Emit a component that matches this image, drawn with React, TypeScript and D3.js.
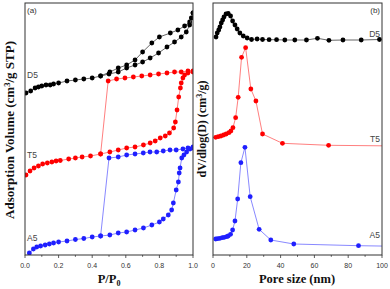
import { useEffect, useRef } from "react"
import * as d3 from "d3"

// isotherms, [P/P0, volume] (arbitrary units)
const d5Ads = [
  [0.006, 162], [0.034, 164], [0.06, 167], [0.08, 168], [0.1, 169], [0.125, 170], [0.15, 170],
  [0.17, 171], [0.2, 172], [0.25, 174], [0.3, 175], [0.35, 176], [0.4, 177], [0.45, 179],
  [0.5, 181], [0.555, 183], [0.605, 187], [0.655, 190], [0.7, 193], [0.745, 197], [0.795, 202],
  [0.845, 208], [0.89, 213], [0.93, 218], [0.96, 223], [0.98, 230], [0.99, 237], [1.0, 242],
]
const d5Des = [
  [1.0, 242], [0.98, 233], [0.95, 229], [0.91, 225], [0.865, 222], [0.8, 218], [0.755, 212],
  [0.7, 203], [0.655, 195], [0.605, 190], [0.555, 187], [0.505, 183], [0.45, 179],
]
const t5Ads = [
  [0.006, 80], [0.03, 84], [0.054, 87], [0.08, 89], [0.105, 91], [0.133, 92], [0.16, 93],
  [0.185, 94], [0.21, 94.5], [0.26, 96], [0.3, 97], [0.34, 98], [0.39, 99], [0.45, 101],
  [0.505, 103], [0.555, 105], [0.605, 107], [0.655, 108], [0.705, 110], [0.745, 112],
  [0.775, 114], [0.805, 117], [0.835, 119], [0.86, 122], [0.885, 127], [0.895, 133],
  [0.905, 145], [0.915, 158], [0.925, 167], [0.93, 172], [0.94, 177], [0.95, 180], [0.97, 182],
  [1.0, 183],
]
const t5Des = [
  [1.0, 184], [0.97, 184], [0.93, 183], [0.89, 183], [0.845, 182], [0.795, 181], [0.745, 180],
  [0.695, 179], [0.645, 178], [0.595, 177], [0.545, 176], [0.495, 174], [0.45, 101],
]
const a5Ads = [
  [0.026, 2], [0.05, 6], [0.07, 8], [0.093, 9], [0.12, 10], [0.145, 11], [0.17, 12], [0.2, 13],
  [0.25, 14], [0.3, 15.5], [0.35, 16.5], [0.4, 18], [0.45, 19], [0.505, 20], [0.555, 22],
  [0.605, 23], [0.655, 25], [0.705, 27], [0.755, 30], [0.8, 33], [0.823, 36], [0.853, 40],
  [0.873, 45], [0.883, 52], [0.9, 65], [0.913, 73], [0.918, 82], [0.923, 87], [0.933, 97],
  [0.946, 100], [0.962, 103], [0.982, 106], [1.0, 107],
]
const a5Des = [
  [1.0, 108], [0.97, 107], [0.94, 106], [0.9, 105], [0.863, 105], [0.823, 104], [0.784, 103],
  [0.744, 103], [0.704, 102], [0.655, 101], [0.605, 100], [0.555, 98], [0.5, 97], [0.45, 19],
]

// pore size distributions, [D (nm), dV/dlog(D)] (arbitrary units)
const d5Psd = [
  [1.8, 218], [2.5, 222], [3.4, 225], [4.1, 228], [4.9, 232], [5.7, 235], [6.5, 238], [7.7, 241],
  [9.0, 241.5], [10.4, 239], [11.6, 234], [13.0, 230], [14.3, 226], [15.9, 222], [17.9, 219],
  [20.2, 217], [22.8, 215.5], [26.1, 216], [29.3, 215.5], [33.2, 215.3], [37.6, 215.3],
  [42.5, 215], [48.4, 215], [55.3, 215], [61.8, 216.7], [68.6, 214.7], [76.9, 215], [87.7, 215],
  [98.5, 215.5],
]
const t5Psd = [
  [1.6, 117.7], [3.1, 118.3], [4.7, 119], [6.3, 120], [7.8, 121], [9.4, 122.3], [10.6, 124],
  [11.8, 127.3], [13.4, 137.3], [14.9, 157.7], [16.9, 197.7], [19.3, 207.3], [22.4, 166],
  [25.4, 154], [29.3, 121], [41.1, 111.7], [68.4, 109.7], [110, 109],
]
const a5Psd = [
  [1.6, 16], [2.8, 16.3], [4.1, 16.7], [5.5, 17.3], [6.7, 17.7], [8.1, 18.3], [9.0, 19],
  [10.4, 20.7], [11.6, 25], [13.0, 34], [14.6, 56], [16.5, 92.3], [18.9, 107.7], [22.0, 58.3],
  [27.3, 25.7], [34.2, 15], [47.8, 11], [86.1, 9.3], [110, 8.7],
]

const sampleNames = ["D5", "T5", "A5"]
const markerColors = ["#000000", "#ff0000", "#1f1fff"]
const lineColors = ["#555555", "#ff7070", "#7a7aff"]

const App = () => {
  const svgRef = useRef<SVGSVGElement>(null)

  useEffect(() => {
    const svg = d3.select(svgRef.current)
    svg.selectAll("*").remove()

    const top = 3
    const bottom = 255
    const panels = [
      { x0: 25, x1: 193, domain: [0, 1], major: 0.2, minor: 0.1, fmt: d3.format(".1f"), id: "a" },
      { x0: 213, x1: 382, domain: [0, 100], major: 20, minor: 10, fmt: d3.format("d"), id: "b" },
    ]
    const y = d3.scaleLinear().domain([0, 252]).range([bottom, top])

    const defs = svg.append("defs")
    panels.forEach((p) => {
      defs
        .append("clipPath")
        .attr("id", "clip-" + p.id)
        .append("rect")
        .attr("x", p.x0)
        .attr("y", top)
        .attr("width", p.x1 - p.x0)
        .attr("height", bottom - top)
    })

    const line = (x) =>
      d3
        .line()
        .x((d) => x(d[0]))
        .y((d) => y(d[1]))

    const drawSeries = (g, x, pts, i, clip) => {
      g.append("path")
        .attr("d", line(x)(pts))
        .attr("fill", "none")
        .attr("stroke", lineColors[i])
        .attr("stroke-width", 0.9)
        .attr("clip-path", clip)
      g.append("g")
        .attr("clip-path", clip)
        .selectAll("circle")
        .data(pts)
        .enter()
        .append("circle")
        .attr("cx", (d) => x(d[0]))
        .attr("cy", (d) => y(d[1]))
        .attr("r", 2.4)
        .attr("fill", markerColors[i])
    }

    panels.forEach((p, pi) => {
      const x = d3.scaleLinear().domain(p.domain).range([p.x0, p.x1])
      const g = svg.append("g")
      const clip = `url(#clip-${p.id})`

      if (pi === 0) {
        ;[
          [d5Ads, d5Des],
          [t5Ads, t5Des],
          [a5Ads, a5Des],
        ].forEach((pair, i) => {
          drawSeries(g, x, pair[1], i, clip)
          drawSeries(g, x, pair[0], i, clip)
        })
      } else {
        ;[d5Psd, t5Psd, a5Psd].forEach((pts, i) => drawSeries(g, x, pts, i, clip))
      }

      // frame
      g.append("rect")
        .attr("x", p.x0)
        .attr("y", top)
        .attr("width", p.x1 - p.x0)
        .attr("height", bottom - top)
        .attr("fill", "none")
        .attr("stroke", "#333")
        .attr("stroke-width", 1)

      // ticks
      const minorTicks = d3.range(p.domain[0], p.domain[1] + 1e-9, p.minor)
      g.append("g")
        .selectAll("line")
        .data(minorTicks)
        .enter()
        .append("line")
        .attr("x1", (d) => x(d))
        .attr("x2", (d) => x(d))
        .attr("y1", bottom)
        .attr("y2", (d, k) => bottom + (k % 2 === 0 ? 3 : 1.8))
        .attr("stroke", "#333")
        .attr("stroke-width", 0.8)

      const majorTicks = d3.range(p.domain[0], p.domain[1] + 1e-9, p.major)
      g.append("g")
        .selectAll("text")
        .data(majorTicks)
        .enter()
        .append("text")
        .attr("x", (d) => x(d))
        .attr("y", 268)
        .attr("text-anchor", "middle")
        .attr("font-family", "Liberation Sans, Arial, sans-serif")
        .attr("font-size", 7)
        .attr("fill", "#333")
        .text((d) => p.fmt(d))

      g.append("text")
        .attr("x", pi === 0 ? p.x0 + 2 : p.x1 - 2)
        .attr("y", 13)
        .attr("text-anchor", pi === 0 ? "start" : "end")
        .attr("font-family", "Liberation Sans, Arial, sans-serif")
        .attr("font-size", 8)
        .attr("fill", "#333")
        .text(`(${p.id})`)
    })

    // sample labels
    const labelLeft = [
      [27, 78],
      [27, 158],
      [27, 241],
    ]
    const labelRight = [
      [380, 37],
      [380, 142],
      [380, 238],
    ]
    sampleNames.forEach((name, i) => {
      svg.append("text")
        .attr("x", labelLeft[i][0])
        .attr("y", labelLeft[i][1])
        .attr("font-family", "Liberation Sans, Arial, sans-serif")
        .attr("font-size", 8.5)
        .attr("fill", "#444")
        .text(name)
      svg.append("text")
        .attr("x", labelRight[i][0])
        .attr("y", labelRight[i][1])
        .attr("text-anchor", "end")
        .attr("font-family", "Liberation Sans, Arial, sans-serif")
        .attr("font-size", 8.5)
        .attr("fill", "#444")
        .text(name)
    })

    // axis titles
    const serif = "Liberation Serif, Times New Roman, serif"
    const xt = svg.append("text")
      .attr("x", 109)
      .attr("y", 283)
      .attr("text-anchor", "middle")
      .attr("font-family", serif)
      .attr("font-weight", "bold")
      .attr("font-size", 12.5)
      .attr("fill", "#111")
    xt.append("tspan").text("P/P")
    xt.append("tspan").attr("font-size", 8).attr("dy", 3).text("0")

    svg.append("text")
      .attr("x", 297)
      .attr("y", 283)
      .attr("text-anchor", "middle")
      .attr("font-family", serif)
      .attr("font-weight", "bold")
      .attr("font-size", 12.5)
      .attr("fill", "#111")
      .text("Pore size (nm)")

    const yl = svg.append("text")
      .attr("transform", "translate(14,130) rotate(-90)")
      .attr("text-anchor", "middle")
      .attr("font-family", serif)
      .attr("font-weight", "bold")
      .attr("font-size", 13)
      .attr("fill", "#111")
    yl.append("tspan").text("Adsorption Volume (cm")
    yl.append("tspan").attr("font-size", 8.5).attr("dy", -4.5).text("3")
    yl.append("tspan").attr("dy", 4.5).text("/g STP)")

    const yr = svg.append("text")
      .attr("transform", "translate(206,129) rotate(-90)")
      .attr("text-anchor", "middle")
      .attr("font-family", serif)
      .attr("font-weight", "bold")
      .attr("font-size", 12)
      .attr("fill", "#111")
    yr.append("tspan").text("dV/dlog(D) (cm")
    yr.append("tspan").attr("font-size", 8).attr("dy", -4).text("3")
    yr.append("tspan").attr("dy", 4).text("/g)")
  }, [])

  return (
    <div style={{ position: "absolute", left: 0, top: 0, background: "#fff" }}>
      <svg ref={svgRef} width={390} height={289} style={{ display: "block" }}></svg>
    </div>
  )
}

export default App
